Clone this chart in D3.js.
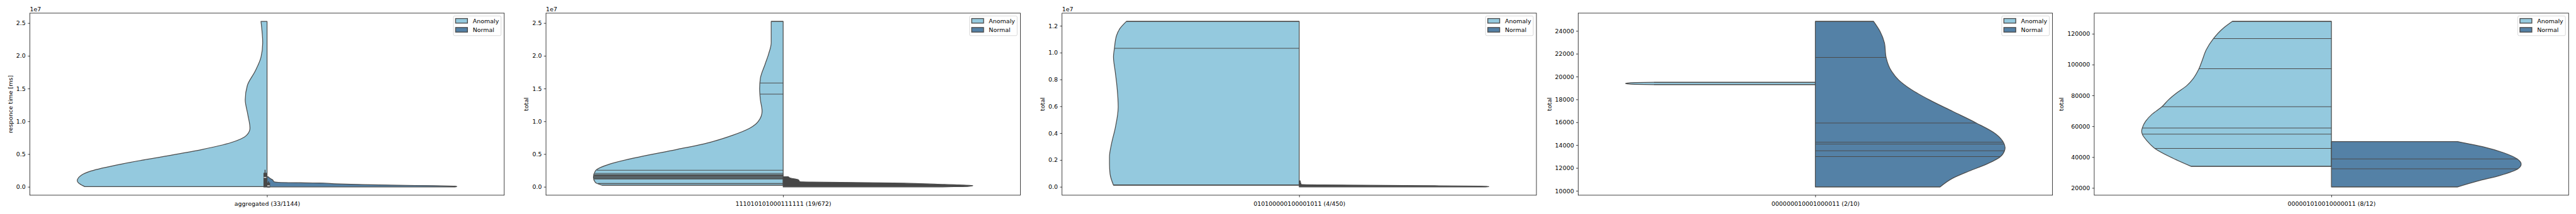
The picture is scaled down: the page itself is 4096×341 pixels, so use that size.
<!DOCTYPE html>
<html><head><meta charset="utf-8">
<script src="https://cdn.jsdelivr.net/npm/d3@7"></script>
<style>html,body{margin:0;padding:0;background:#fff;overflow:hidden}</style>
</head><body><svg id="c"></svg>
<script>
// ---------------- data ----------------
const categories = ["aggregated (33/1144)", "111010101000111111 (19/672)", "010100000100001011 (4/450)", "000000010001000011 (2/10)", "000001010010000011 (8/12)"];
const yLabels = ["responce time [ms]", "total", "total", "total", "total"];
const seriesNames = ["Anomaly", "Normal"];
const tickValues = [
  [0, 5e6, 1e7, 1.5e7, 2e7, 2.5e7],
  [0, 5e6, 1e7, 1.5e7, 2e7, 2.5e7],
  [0, 2e6, 4e6, 6e6, 8e6, 1e7, 1.2e7],
  [10000, 12000, 14000, 16000, 18000, 20000, 22000, 24000],
  [20000, 40000, 60000, 80000, 100000, 120000]
];
const tickLabels = [
  ["0.0", "0.5", "1.0", "1.5", "2.0", "2.5"],
  ["0.0", "0.5", "1.0", "1.5", "2.0", "2.5"],
  ["0.0", "0.2", "0.4", "0.6", "0.8", "1.0", "1.2"],
  ["10000", "12000", "14000", "16000", "18000", "20000", "22000", "24000"],
  ["20000", "40000", "60000", "80000", "100000", "120000"]
];
const offsetTexts = ["1e7", "1e7", "1e7", "", ""];
// violin half profiles: [value, relative half-width]
const anomalyProfiles = [
  [[2.526e7,0.032],[2.2e7,0.023],[1.98e7,0.032],[1.765e7,0.063],[1.548e7,0.104],[1.33e7,0.115],[1.113e7,0.102],[0.896e7,0.09],[0.787e7,0.108],[0.678e7,0.188],[0.57e7,0.344],[0.46e7,0.554],[0.352e7,0.762],[0.243e7,0.927],[0.178e7,0.979],[0.095e7,1.0],[0.048e7,0.988],[0.004e7,0.961]],
  [[2.526e7,0.063],[2.2e7,0.063],[2.026e7,0.077],[1.874e7,0.095],[1.657e7,0.12],[1.5e7,0.124],[1.33e7,0.12],[1.156e7,0.111],[1.0e7,0.131],[0.896e7,0.176],[0.787e7,0.267],[0.678e7,0.389],[0.57e7,0.563],[0.46e7,0.755],[0.352e7,0.911],[0.243e7,0.99],[0.145e7,1.0],[0.07e7,0.99],[0.026e7,0.954]],
  [[1.233e7,0.911],[1.18e7,0.945],[1.127e7,0.963],[1.033e7,0.974],[0.968e7,0.979],[0.861e7,0.97],[0.755e7,0.961],[0.595e7,0.954],[0.436e7,0.97],[0.33e7,0.988],[0.224e7,1.0],[0.171e7,1.0],[0.097e7,0.997],[0.013e7,0.979]],
  [[19505,0.85],[19480,0.95],[19440,0.99],[19404,1.0],[19370,0.99],[19330,0.95],[19303,0.85]],
  [[128050,0.522],[123415,0.572],[116860,0.622],[109540,0.66],[103070,0.68],[97330,0.698],[91050,0.728],[86420,0.762],[81780,0.814],[77180,0.859],[72730,0.893],[67900,0.945],[63300,0.979],[58860,0.997],[56900,1.0],[54970,0.997],[50340,0.97],[45700,0.931],[40150,0.85],[34040,0.739]]
];
const normalProfiles = [
  [[1.56e6,0.005],[1.4e6,0.012],[1.2e6,0.022],[1.05e6,0.03],[0.8e6,0.036],[0.7e6,0.06],[0.62e6,0.2],[0.58e6,0.3],[0.48e6,0.355],[0.36e6,0.5],[0.26e6,0.68],[0.18e6,0.88],[0.12e6,0.99],[0.06e6,1.0],[0,0.99]],
  [[1.56e6,0.027],[1.37e6,0.036],[1.08e6,0.08],[0.8e6,0.088],[0.74e6,0.15],[0.59e6,0.58],[0.37e6,0.85],[0.2e6,1.0],[0.1e6,0.98],[0.03e6,0.9],[0,0.84]],
  [[0.45e6,0.005],[0.19e6,0.01],[0.15e6,0.12],[0.1e6,0.55],[0.06e6,0.95],[0.03e6,1.0],[0,0.98]],
  [[24837,0.307],[23964,0.341],[22964,0.364],[21678,0.373],[20465,0.402],[19715,0.439],[18966,0.497],[17970,0.601],[16969,0.723],[15946,0.848],[14972,0.952],[14222,0.992],[13784,1.0],[13510,0.997],[12971,0.974],[12349,0.904],[11723,0.809],[11098,0.723],[10348,0.658]],
  [[50140,0.665],[46640,0.802],[42930,0.906],[38870,0.979],[35540,1.0],[32490,0.983],[28130,0.888],[24440,0.769],[20720,0.665]]
];
// individual observations drawn as sticks
const anomalySticks = [
  [],
  [2.526e7,1.585e7,1.415e7,2.54e6,2.06e6,1.88e6,1.86e6,1.83e6,1.78e6,1.74e6,1.70e6,1.62e6,1.54e6,1.41e6,1.36e6,1.25e6,1.21e6,0.52e6,0.26e6],
  [1.233e7,1.033e7,0.015e7,0.013e7],
  [19505,19303],
  [128050,116860,97330,72730,58860,54970,45700,34040]
];
const normalSticks = [
  [],
  [],
  [],
  [24837,21678,15946,14260,14096,13510,12997,10348],
  [50140,38870,32490,20720]
];
const denseNormal = [false, true, true, false, false];
// inner boxes (first panel only): [low whisker, q1, median, q3, high whisker]
const anomalyBoxes = [[0, 0.02e6, 1.45e6, 2.15e6, 2.61e6], null, null, null, null];
const normalBoxes = [[0, 0, 0.17e6, 0.65e6, 0.85e6], null, null, null, null];

// ---------------- drawing ----------------
const FONT = "DejaVu Sans";
const FS = 13.9;
const colors = {Anomaly: "#94c9de", Normal: "#5481a6"};
const gray = "#4b4b4b";
const PL0 = 66.7, PSTEP = 1203.25, PW = 1106, PT = 30.7, PB = 456;

const svg = d3.select("#c").attr("width", 4096).attr("height", 341)
  .attr("viewBox", "0 0 6000 500").style("display", "block");
svg.append("rect").attr("width", 6000).attr("height", 500).attr("fill", "#fff");

categories.forEach((cat, i) => {
  const g = svg.append("g").attr("transform", `translate(${PL0 + i * PSTEP},0)`);
  const x = d3.scaleLinear().domain([-0.5, 0.5]).range([0, PW]);
  const allVals = anomalyProfiles[i].map(d => d[0]).concat(normalProfiles[i].map(d => d[0]));
  const [mn, mx] = d3.extent(allVals);
  const pad = (mx - mn) * 0.05;
  const y = d3.scaleLinear().domain([mn - pad, mx + pad]).range([PB, PT]);
  const half = 0.4;

  function drawHalf(profile, side, fill) {
    const sorted = profile.slice().sort((a, b) => a[0] - b[0]);
    const area = d3.area()
      .y(d => y(d[0]))
      .x0(x(0))
      .x1(d => x(side * half * d[1]))
      .curve(d3.curveMonotoneY);
    g.append("path").datum(sorted).attr("d", area)
      .attr("fill", fill).attr("stroke", gray).attr("stroke-width", 1.8)
      .attr("stroke-linejoin", "round");
    return d3.scaleLinear().domain(sorted.map(d => d[0])).range(sorted.map(d => d[1])).clamp(true);
  }
  const aw = drawHalf(anomalyProfiles[i], -1, colors.Anomaly);
  const nw = drawHalf(normalProfiles[i], 1, denseNormal[i] ? "#474747" : colors.Normal);

  function sticks(vals, side, wf) {
    g.selectAll(null).data(vals).enter().append("line")
      .attr("x1", x(0)).attr("x2", d => x(side * half * wf(d)))
      .attr("y1", d => y(d)).attr("y2", d => y(d))
      .attr("stroke", gray).attr("stroke-width", 1.5);
  }
  sticks(anomalySticks[i], -1, aw);
  sticks(normalSticks[i], 1, nw);

  function box(b, cx) {
    if (!b) return;
    const bw = 0.0067, ww = 0.0021, mw = 0.0052;
    g.append("rect").attr("x", x(cx - ww / 2)).attr("width", x(ww) - x(0))
      .attr("y", y(b[4])).attr("height", y(b[0]) - y(b[4])).attr("fill", "#474747");
    g.append("rect").attr("x", x(cx - bw / 2)).attr("width", x(bw) - x(0))
      .attr("y", y(b[3])).attr("height", y(b[1]) - y(b[3]) + 1.5).attr("fill", "#474747");
    g.append("rect").attr("x", x(cx - mw / 2)).attr("width", x(mw) - x(0))
      .attr("y", y(b[2]) - 1).attr("height", 2).attr("fill", "#eeeeee");
  }
  box(anomalyBoxes[i], -0.0042);
  box(normalBoxes[i], 0.003);

  // frame
  g.append("rect").attr("x", 0).attr("y", PT).attr("width", PW).attr("height", PB - PT)
    .attr("fill", "none").attr("stroke", "#000").attr("stroke-width", 1.1);

  // y axis
  const ya = g.append("g").call(d3.axisLeft(y).tickValues(tickValues[i])
    .tickFormat((d, j) => tickLabels[i][j]).tickSize(4.86).tickPadding(4.86));
  ya.select(".domain").remove();
  ya.selectAll("line").attr("stroke", "#000").attr("stroke-width", 1.1);
  ya.selectAll("text").attr("font-family", FONT).attr("font-size", FS).attr("fill", "#000");

  // x axis
  const xa = g.append("g").attr("transform", `translate(0,${PB})`)
    .call(d3.axisBottom(x).tickValues([0]).tickFormat(() => cat).tickSize(4.86).tickPadding(4.86));
  xa.select(".domain").remove();
  xa.selectAll("line").attr("stroke", "#000").attr("stroke-width", 1.1);
  xa.selectAll("text").attr("font-family", FONT).attr("font-size", FS).attr("fill", "#000")
    .attr("y", 0).attr("dy", 0).attr("transform", "translate(0,25)");

  // y label
  let minX = 0;
  ya.selectAll("text").each(function () { const b = this.getBBox(); minX = Math.min(minX, b.x); });
  const lx = minX - 5.6 - 3.3;
  g.append("text").attr("transform", `translate(${lx},${(PT + PB) / 2}) rotate(-90)`)
    .attr("text-anchor", "middle").attr("font-family", FONT).attr("font-size", FS)
    .text(yLabels[i]);

  // offset text
  if (offsetTexts[i]) {
    g.append("text").attr("x", 0).attr("y", 25.7).attr("font-family", FONT).attr("font-size", FS)
      .text(offsetTexts[i]);
  }

  // legend
  const lg = g.append("g").attr("transform", `translate(${PW - 118.4},${PT + 6.6})`);
  lg.append("rect").attr("width", 111).attr("height", 46).attr("rx", 3)
    .attr("fill", "#fff").attr("fill-opacity", 0.8).attr("stroke", "#cccccc").attr("stroke-width", 1.1);
  seriesNames.forEach((s, k) => {
    lg.append("rect").attr("x", 5).attr("y", 6 + k * 21).attr("width", 27.7).attr("height", 10.7)
      .attr("fill", colors[s]).attr("stroke", gray).attr("stroke-width", 2);
    lg.append("text").attr("x", 45).attr("y", 11.7 + k * 21).attr("dy", "0.35em")
      .attr("font-family", FONT).attr("font-size", FS).text(s);
  });
});
</script></body></html>
